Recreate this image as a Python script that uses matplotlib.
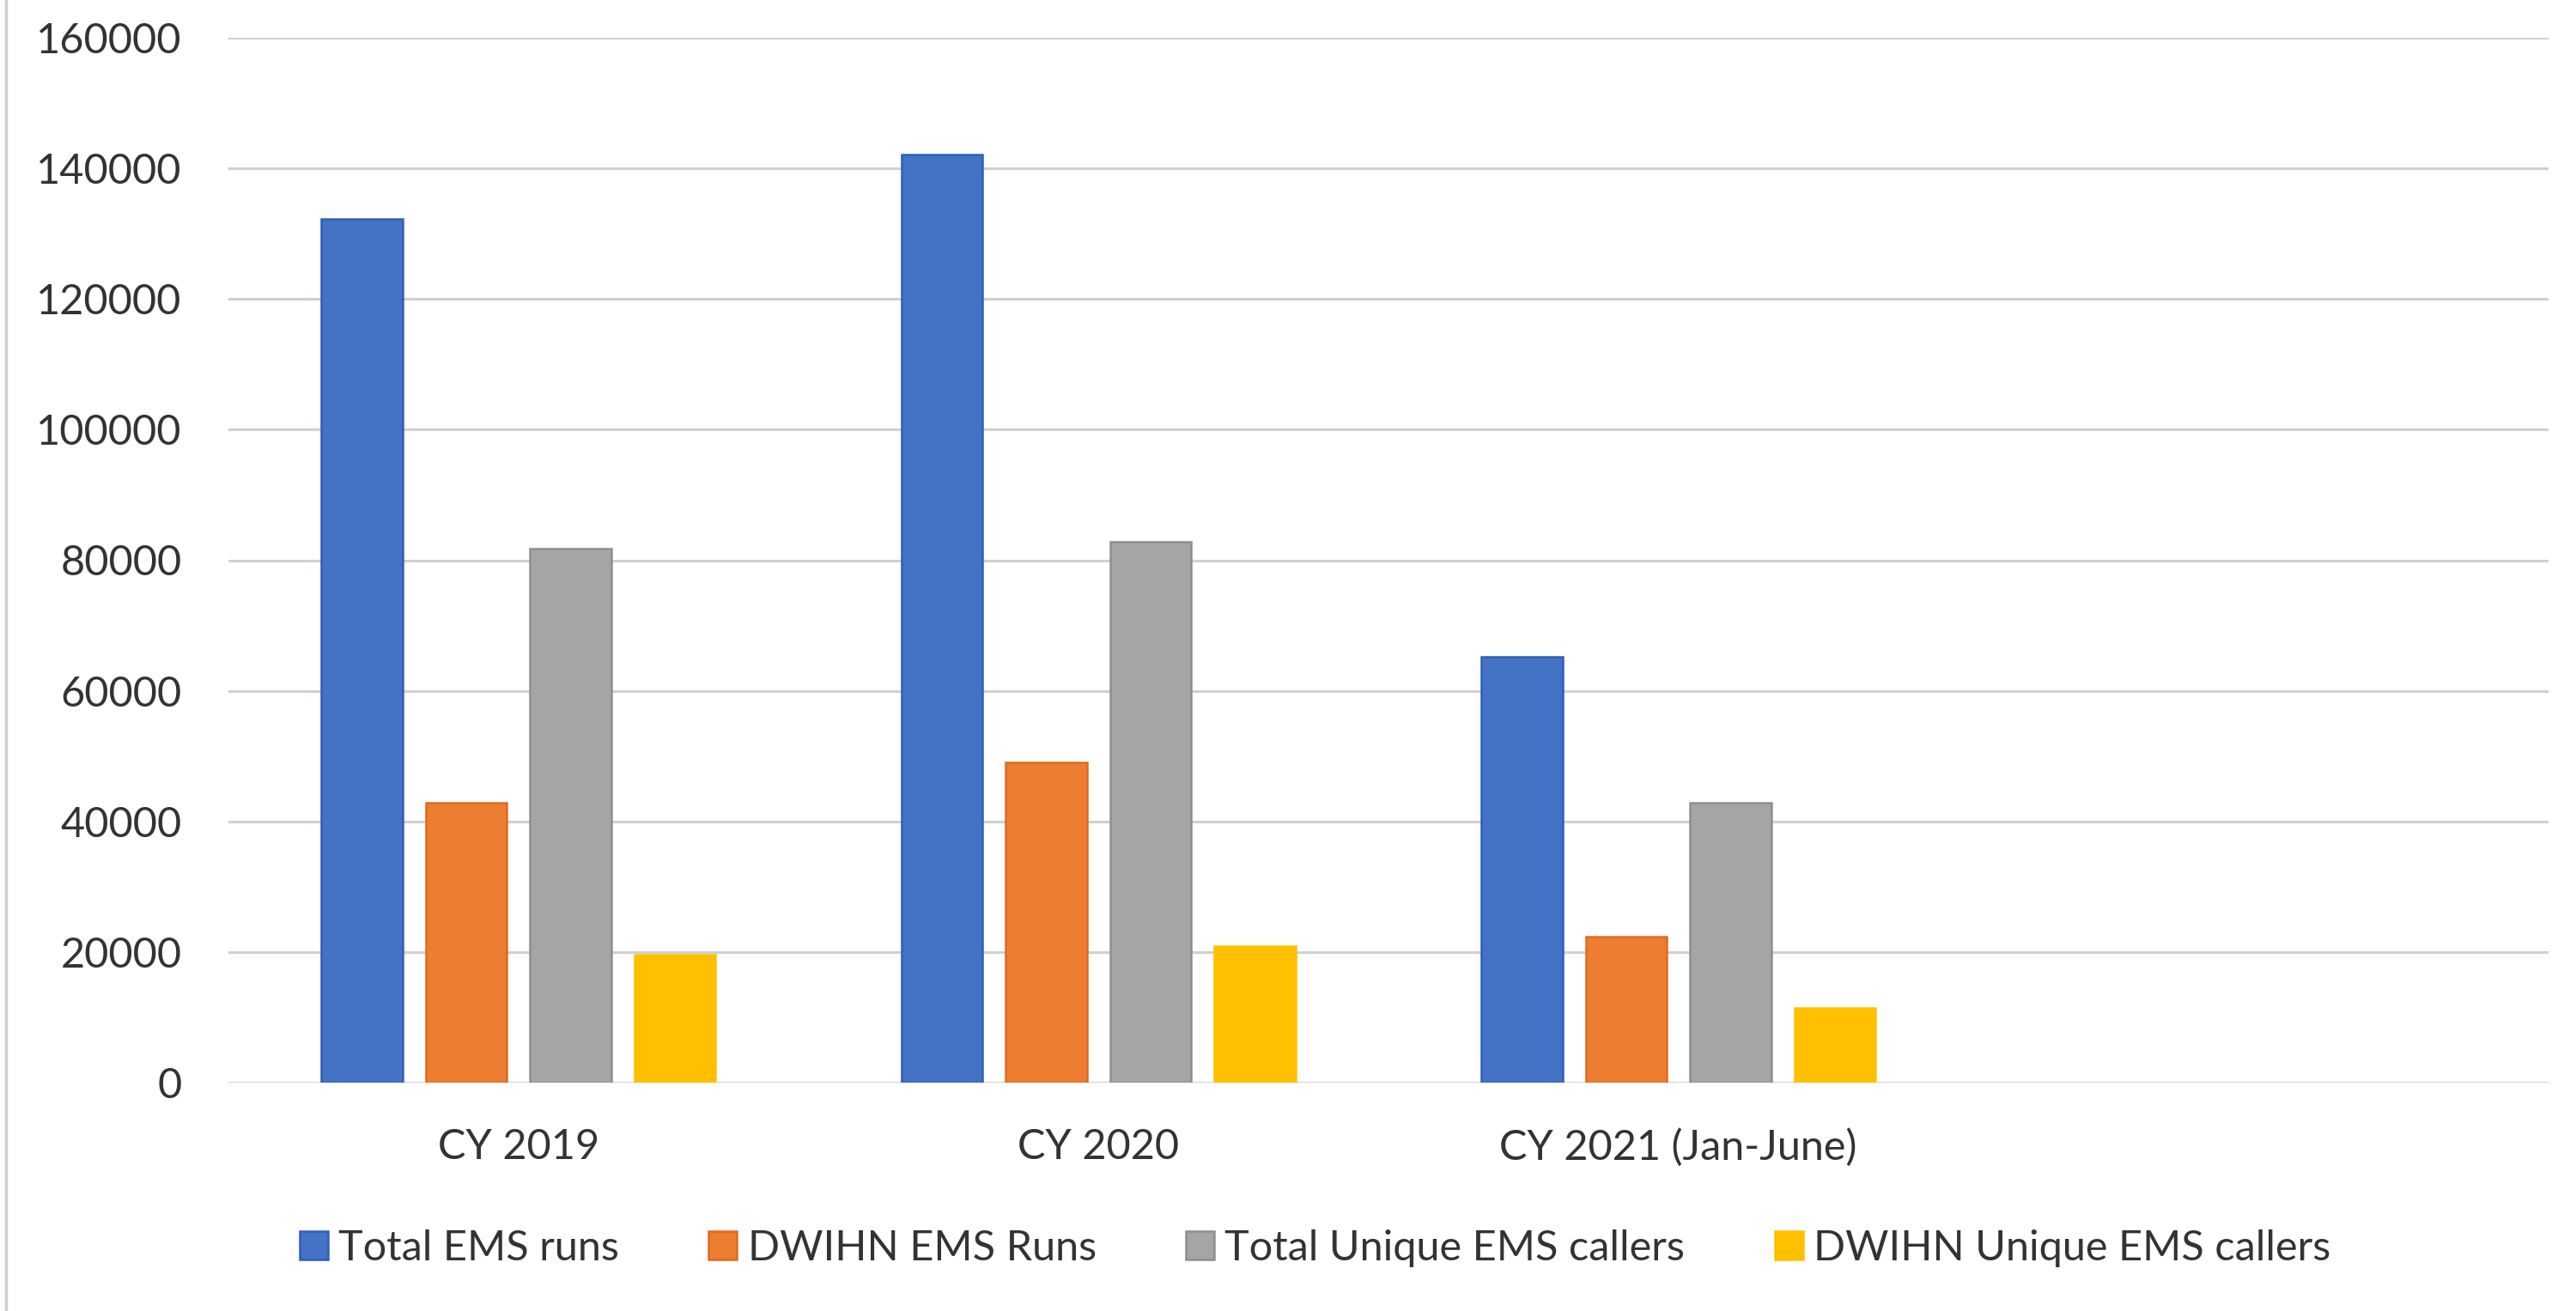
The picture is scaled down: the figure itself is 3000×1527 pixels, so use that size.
import matplotlib
matplotlib.use("Agg")
import matplotlib.pyplot as plt
import numpy as np
from matplotlib.lines import Line2D

categories = ["CY 2019", "CY 2020", "CY 2021 (Jan-June)", ""]
series_names = ["Total EMS runs", "DWIHN EMS Runs", "Total Unique EMS callers", "DWIHN Unique EMS callers"]
total_ems_runs = [132300, 142100, 65200, np.nan]
dwihn_ems_runs = [42900, 49000, 22300, np.nan]
total_unique_callers = [81800, 82800, 42900, np.nan]
dwihn_unique_callers = [19600, 20900, 11400, np.nan]
y_ticks = [0, 20000, 40000, 60000, 80000, 100000, 120000, 140000, 160000]

series = [total_ems_runs, dwihn_ems_runs, total_unique_callers, dwihn_unique_callers]
fills = ["#4472C4", "#ED7D31", "#A5A5A5", "#FFC000"]
edges = ["#2F5FB8", "#E06A1E", "#8F8F8F", "#FFC000"]

plt.rcParams['font.family'] = ['Lato', 'DejaVu Sans']
text_color = "#333333"
fs = 35

fig = plt.figure(figsize=(30, 15.27), dpi=100)
ax = fig.add_axes([266/3000, 266/1527, (2968-266)/3000, (1483-266)/1527])

x = np.arange(len(categories))
slot = 0.18
width = 0.14
for i, (vals, name) in enumerate(zip(series, series_names)):
    ax.bar(x + (i - 1.5) * slot, vals, width, color=fills[i], edgecolor=edges[i],
           linewidth=1.8, label=name, zorder=3)

ax.set_xlim(-0.5, len(categories) - 0.5)
ax.set_ylim(0, 160000)
ax.set_yticks(y_ticks)
ax.set_yticklabels([str(v) for v in y_ticks])
ax.set_xticks(x)
ax.set_xticklabels(categories)
ax.tick_params(axis='both', length=0, labelsize=fs, colors=text_color)
ax.tick_params(axis='y', pad=39)
ax.tick_params(axis='x', pad=38)
ax.yaxis.grid(True, color="#D0D0D0", linewidth=2.2, zorder=0)
ax.set_axisbelow(True)
for s in ax.spines.values():
    s.set_visible(False)

leg = fig.legend(loc='center', bbox_to_anchor=(0.5105, 0.048), ncol=4, frameon=False,
                 fontsize=fs, handlelength=0.68, handleheight=0.68,
                 handletextpad=0.25, columnspacing=2.15, labelcolor=text_color)

fig.add_artist(Line2D([7/3000, 7/3000], [0, 1], transform=fig.transFigure,
                      color="#D0D0D0", linewidth=2.5))

fig.savefig("out.png", dpi=100, facecolor="white")
